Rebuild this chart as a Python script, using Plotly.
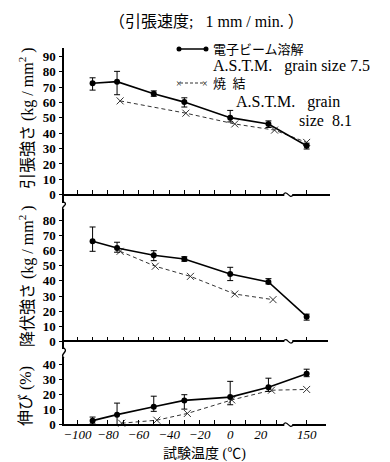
import plotly.graph_objects as go

# ---------------- data ----------------
TEMPS_EB = [-90, -74, -50, -30, 0, 25, 150]
TENSILE_EB = [72.5, 73.5, 65.6, 60.2, 50.1, 46.0, 31.8]
TENSILE_EB_HI = [76.0, 80.2, 67.5, 63.0, 54.8, 48.0, 33.5]
TENSILE_EB_LO = [68.0, 65.0, 64.0, 57.0, 47.3, 43.7, 29.7]

YIELD_EB = [66.2, 61.8, 57.0, 54.5, 44.6, 39.3, 16.3]
YIELD_EB_HI = [75.7, 65.6, 60.0, 56.0, 49.0, 41.5, 18.0]
YIELD_EB_LO = [59.6, 59.0, 53.4, 53.0, 40.2, 38.0, 14.0]

ELONG_EB = [2.7, 6.7, 12.0, 16.2, 18.4, 24.9, 34.0]
ELONG_EB_HI = [5.1, 14.4, 19.0, 20.0, 28.9, 31.0, 37.0]
ELONG_EB_LO = [0.5, 0.0, 8.9, 10.4, 13.3, 22.2, 32.0]

TEMPS_SINT_TENSILE = [-72, -29, 3, 29, 150]
TENSILE_SINT = [61.0, 53.0, 46.0, 42.0, 34.0]

TEMPS_SINT_YIELD = [-72, -49, -26, 3, 28]
YIELD_SINT = [59.6, 49.7, 43.0, 31.3, 27.6]

TEMPS_SINT_ELONG = [-71, -48, -28, 1, 27, 150]
ELONG_SINT = [1.0, 3.0, 7.5, 16.5, 23.0, 23.5]

TICK_TEMPS = [-100, -90, -80, -70, -60, -50, -40, -30, -20, -10, 0, 10, 20, 30, 150]
TICK_LABELS = ["−100", "", "−80", "", "−60", "", "−40", "", "−20", "", "0", "", "20", "", "150"]

TENSILE_TICKS = [0, 10, 20, 30, 40, 50, 60, 70, 80, 90]
YIELD_TICKS = [0, 10, 20, 30, 40, 50, 60, 70, 80]
ELONG_TICKS = [0, 10, 20, 30, 40]


# broken temperature axis: values above 40 C are shifted left by 100
def to_pos(t):
    return t if t <= 40 else t - 100


W, H = 390, 462


def fx(x):
    return x / W


def fy(y):
    return 1 - y / H


SERIF = "Liberation Serif, Noto Sans CJK JP"
CJK = "Liberation Serif, Noto Sans CJK JP"

fig = go.Figure()


def add_series(temps, vals, xa, ya, solid, hi=None, lo=None):
    ex = [to_pos(t) for t in temps]
    err = None
    if hi is not None:
        err = dict(type="data", symmetric=False,
                   array=[h - v for h, v in zip(hi, vals)],
                   arrayminus=[v - l for v, l in zip(vals, lo)],
                   color="black", thickness=1, width=3)
    if solid:
        fig.add_trace(go.Scatter(
            x=ex, y=vals, xaxis=xa, yaxis=ya, mode="lines+markers",
            line=dict(color="black", width=1.6),
            marker=dict(symbol="circle", size=6, color="black"),
            error_y=err, cliponaxis=False))
    else:
        fig.add_trace(go.Scatter(
            x=ex, y=vals, xaxis=xa, yaxis=ya, mode="lines+markers",
            line=dict(color="#333333", width=1, dash="4px,3px"),
            marker=dict(symbol="x-thin-open", size=7, color="#333333",
                        line=dict(width=1, color="#333333")),
            cliponaxis=False))


add_series(TEMPS_SINT_TENSILE, TENSILE_SINT, "x", "y", False)
add_series(TEMPS_EB, TENSILE_EB, "x", "y", True, TENSILE_EB_HI, TENSILE_EB_LO)
add_series(TEMPS_SINT_YIELD, YIELD_SINT, "x2", "y2", False)
add_series(TEMPS_EB, YIELD_EB, "x2", "y2", True, YIELD_EB_HI, YIELD_EB_LO)
add_series(TEMPS_SINT_ELONG, ELONG_SINT, "x3", "y3", False)
add_series(TEMPS_EB, ELONG_EB, "x3", "y3", True, ELONG_EB_HI, ELONG_EB_LO)

X0 = 56.0          # pixel of y axes
XZERO = 222.2      # pixel of 0 C
XS = 1.529         # px per degree
tickpos = [to_pos(t) for t in TICK_TEMPS]

# panel geometry in pixels: (top, bottom, zero_px, px_per_unit, right)
panels = [
    (40, 196, 186.7, 1.538, 322),
    (200, 341, 333.3, 1.51, 320),
    (349, 418, 416.7, 1.50, 318),
]
yticks = [TENSILE_TICKS, YIELD_TICKS, ELONG_TICKS]

tickfont_y = dict(family="Liberation Serif", size=13, color="black", weight="bold")
tickfont_x = dict(family="Liberation Serif", size=13, color="black", style="italic")

for i, (top, bot, zero, sc, right) in enumerate(panels):
    sfx = "" if i == 0 else str(i + 1)
    xr = [(X0 - XZERO) / XS, (right - XZERO) / XS]
    yr = [(zero - bot) / sc, (zero - top) / sc]
    fig.layout["xaxis" + sfx] = dict(
        domain=[fx(X0), fx(right)], range=xr, anchor="free", position=fy(zero),
        showline=True, linecolor="black", linewidth=1.5, showgrid=False, zeroline=False,
        tickmode="array", tickvals=tickpos, ticktext=TICK_LABELS,
        ticks="inside", ticklen=4, tickcolor="black", tickwidth=1,
        showticklabels=(i == 2), tickfont=tickfont_x, ticklabelstandoff=-2)
    fig.layout["yaxis" + sfx] = dict(
        domain=[fy(bot), fy(top)], range=yr, anchor="x" + sfx,
        showline=True, linecolor="black", linewidth=1.5, showgrid=False, zeroline=False,
        tickmode="array", tickvals=yticks[i], ticks="outside", ticklen=3,
        tickcolor="black", tickfont=tickfont_y, ticklabelstandoff=1)

shapes = []

# y-axis break squiggles
for (ya, yb) in [(195, 201), (341, 349)]:
    m = (ya + yb) / 2
    shapes.append(dict(type="rect", xref="paper", yref="paper",
                       x0=fx(X0 - 2), x1=fx(X0 + 2), y0=fy(yb), y1=fy(ya),
                       fillcolor="white", line=dict(width=0), layer="above"))
    shapes.append(dict(
        type="path", xref="paper", yref="paper",
        path=(f"M {fx(X0)},{fy(ya - 1)} C {fx(X0 + 5)},{fy(m - 1)} "
              f"{fx(X0 - 5)},{fy(m + 1)} {fx(X0)},{fy(yb + 1)}"),
        line=dict(color="black", width=1.4), layer="above"))

# x-axis break marks near 35 C
for (top, bot, zero, sc, right) in panels:
    xb = XZERO + XS * 38
    shapes.append(dict(type="rect", xref="paper", yref="paper",
                       x0=fx(xb - 4), x1=fx(xb + 4), y0=fy(zero + 1.5), y1=fy(zero - 1.5),
                       fillcolor="white", line=dict(width=0), layer="above"))
    shapes.append(dict(
        type="path", xref="paper", yref="paper",
        path=(f"M {fx(xb - 5)},{fy(zero)} C {fx(xb - 1)},{fy(zero - 6)} "
              f"{fx(xb + 1)},{fy(zero + 6)} {fx(xb + 5)},{fy(zero)}"),
        line=dict(color="black", width=1.2), layer="above"))

# legend samples
shapes.append(dict(type="line", xref="paper", yref="paper",
                   x0=fx(171), x1=fx(198), y0=fy(41), y1=fy(41),
                   line=dict(color="black", width=1.5)))
for cx in (171, 198):
    shapes.append(dict(type="circle", xref="paper", yref="paper",
                       x0=fx(cx - 2.5), x1=fx(cx + 2.5), y0=fy(43.5), y1=fy(38.5),
                       fillcolor="black", line=dict(color="black", width=0)))
shapes.append(dict(type="line", xref="paper", yref="paper",
                   x0=fx(172), x1=fx(196), y0=fy(75), y1=fy(75),
                   line=dict(color="#333333", width=1, dash="3px,2px")))


def ann(x, y, text, size=14, family=CJK, xanchor="center", **kw):
    d = dict(x=fx(x), y=fy(y), xref="paper", yref="paper", text=text,
             xanchor=xanchor, yanchor="middle",
             showarrow=False, font=dict(family=family, size=size, color="black"))
    d.update(kw)
    return d


annotations = [
    ann(198, 14, "（引張速度;   1 mm / min. ）", 16),
    ann(203, 41, "電子ビーム溶解", 13, xanchor="left"),
    ann(203, 58, "A.S.T.M.   grain size 7.5", 16, SERIF, xanchor="left"),
    ann(203, 76, "焼  結", 13, xanchor="left"),
    ann(226, 94, "A.S.T.M.   grain", 16, SERIF, xanchor="left"),
    ann(289, 112, "size  8.1", 16, SERIF, xanchor="left"),
    ann(171, 75, "×", 10, SERIF),
    ann(197, 75, "×", 10, SERIF),
    ann(18, 110, "引張強さ (kg / mm<sup>2</sup> )", 16, textangle=-90),
    ann(18, 268, "降伏強さ (kg / mm<sup>2</sup> )", 16, textangle=-90),
    ann(18, 388, "伸び (%)", 16, textangle=-90),
    ann(196, 446, "試験温度 (℃)", 14),
]

fig.update_layout(
    width=W, height=H, margin=dict(l=0, r=0, t=0, b=0, autoexpand=False),
    paper_bgcolor="white", plot_bgcolor="white", showlegend=False,
    shapes=shapes, annotations=annotations)

fig.write_html("out.html")
